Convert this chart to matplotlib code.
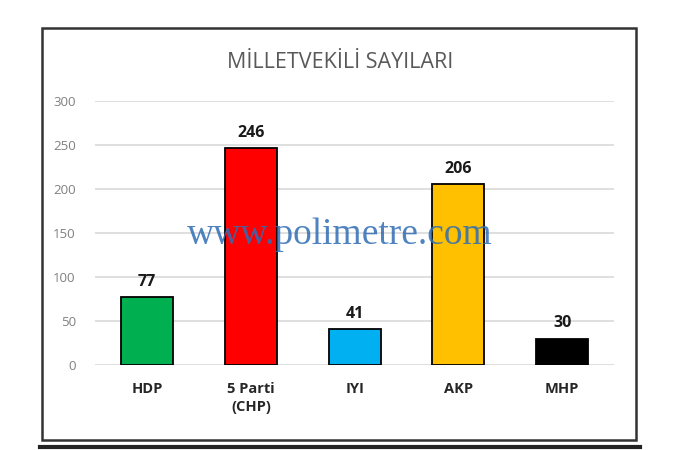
import matplotlib.pyplot as plt
from matplotlib.patches import Rectangle
from matplotlib.lines import Line2D

# veriler
partiler = ['HDP', '5 Parti\n(CHP)', 'IYI', 'AKP', 'MHP']
sandalye = [77, 246, 41, 206, 30]
renkler = ['#00b050', '#ff0000', '#00b0f0', '#ffc000', '#000000']
y_ticks = [0, 50, 100, 150, 200, 250, 300]

plt.rcParams['font.family'] = ['Open Sans', 'DejaVu Sans']

fig = plt.figure(figsize=(6.9, 4.5), dpi=100)
ax = fig.add_axes([0.138, 0.189, 0.752, 0.587])

x = list(range(len(partiler)))
ax.bar(x, sandalye, width=0.5, color=renkler, edgecolor='black', linewidth=1.3, zorder=3)

for xi, v in zip(x, sandalye):
    ax.text(xi, v + 8, str(v), ha='center', va='bottom', fontsize=11.5,
            fontweight='bold', color='#1a1a1a')

ax.set_xlim(-0.5, 4.5)
ax.set_ylim(0, 300)
ax.set_yticks(y_ticks)
ax.set_yticklabels([str(t) for t in y_ticks], color='#808080', fontsize=9.5)
ax.set_xticks(x)
ax.set_xticklabels(partiler, fontsize=10.5, fontweight='bold', color='#262626',
                   linespacing=1.4)
ax.tick_params(axis='both', length=0)
ax.tick_params(axis='x', pad=12)
ax.tick_params(axis='y', pad=14)
ax.grid(axis='y', color='#d9d9d9', linewidth=1.2, zorder=0)
for s in ax.spines.values():
    s.set_visible(False)

# başlık
fig.text(0.493, 0.86, 'MİLLETVEKİLİ SAYILARI', ha='center', va='center',
         fontsize=15.5, color='#595959')

# filigran
fig.text(0.493, 0.478, 'www.polimetre.com', ha='center', va='center',
         fontsize=27, family='Liberation Serif', color='#2f6db5', alpha=0.85,
         zorder=10)

# çerçeve
fig.patches.append(Rectangle((42 / 690, 1 - 440 / 450), (636 - 42) / 690, (440 - 28) / 450,
                             transform=fig.transFigure, fill=False,
                             edgecolor='#333333', linewidth=1.8))
fig.lines.append(Line2D([40 / 690, 640 / 690], [1 - 447 / 450] * 2,
                        transform=fig.transFigure, color='#222222', linewidth=3))

fig.savefig('out.png', dpi=100, facecolor='white')
